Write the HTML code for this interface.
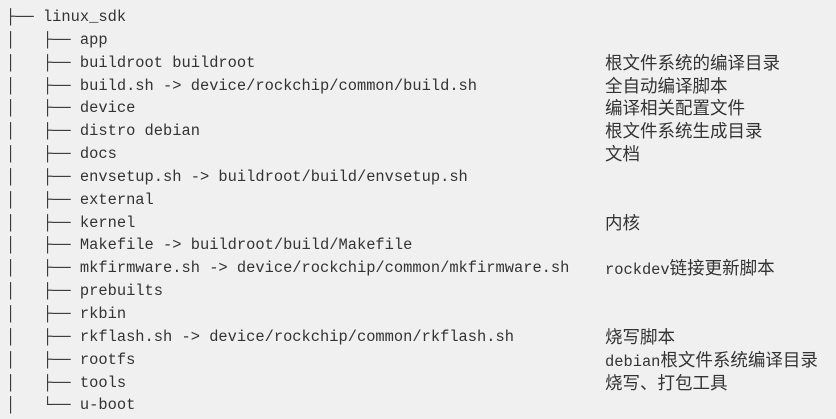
<!DOCTYPE html>
<html><head><meta charset="utf-8"><style>
html,body{margin:0;padding:0;}
body{width:836px;height:419px;background:#f0f0f0;overflow:hidden;position:relative;}
.w{position:absolute;left:6px;top:6px;font-family:"Liberation Mono","DejaVu Sans Mono","Noto Sans CJK SC",monospace;font-size:15.4px;color:#333;}
.r{height:22.85px;line-height:22.85px;white-space:pre;position:relative;width:829px;}
.c{position:absolute;left:599px;top:0;font-family:"Liberation Mono","Noto Sans CJK SC",monospace;}
.c b{font-weight:normal;font-family:"Noto Sans CJK SC",sans-serif;font-size:17.5px;}
</style></head><body><div class="w">
<div class="r">├── linux_sdk</div>
<div class="r">│   ├── app</div>
<div class="r">│   ├── buildroot buildroot<span class="c"><b>根文件系统的编译目录</b></span></div>
<div class="r">│   ├── build.sh -&gt; device/rockchip/common/build.sh<span class="c"><b>全自动编译脚本</b></span></div>
<div class="r">│   ├── device<span class="c"><b>编译相关配置文件</b></span></div>
<div class="r">│   ├── distro debian<span class="c"><b>根文件系统生成目录</b></span></div>
<div class="r">│   ├── docs<span class="c"><b>文档</b></span></div>
<div class="r">│   ├── envsetup.sh -&gt; buildroot/build/envsetup.sh</div>
<div class="r">│   ├── external</div>
<div class="r">│   ├── kernel<span class="c"><b>内核</b></span></div>
<div class="r">│   ├── Makefile -&gt; buildroot/build/Makefile</div>
<div class="r">│   ├── mkfirmware.sh -&gt; device/rockchip/common/mkfirmware.sh<span class="c">rockdev<b>链接更新脚本</b></span></div>
<div class="r">│   ├── prebuilts</div>
<div class="r">│   ├── rkbin</div>
<div class="r">│   ├── rkflash.sh -&gt; device/rockchip/common/rkflash.sh<span class="c"><b>烧写脚本</b></span></div>
<div class="r">│   ├── rootfs<span class="c">debian<b>根文件系统编译目录</b></span></div>
<div class="r">│   ├── tools<span class="c"><b>烧写、打包工具</b></span></div>
<div class="r">│   └── u-boot</div>
</div></body></html>
